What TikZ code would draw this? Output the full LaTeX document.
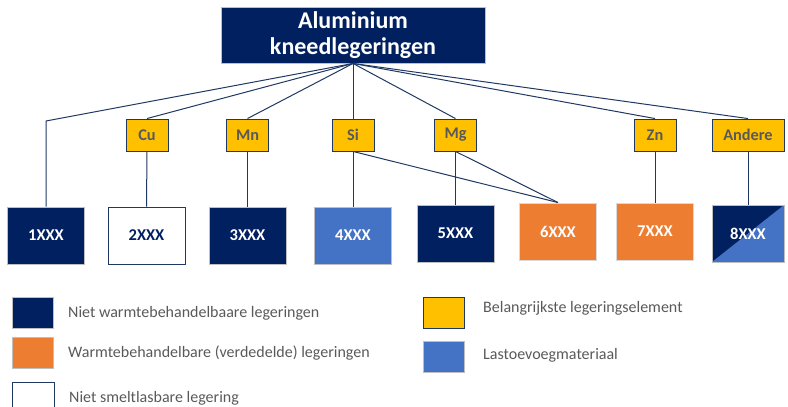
\documentclass[tikz,border=0pt]{standalone}
\usepackage{fontspec}
\setmainfont{Carlito}
\definecolor{navy}{HTML}{002060}
\definecolor{lnav}{HTML}{1F3864}
\definecolor{orng}{HTML}{ED7D31}
\definecolor{lblue}{HTML}{4472C4}
\definecolor{yel}{HTML}{FFC000}
\definecolor{elgray}{HTML}{595959}
\definecolor{bgray}{HTML}{BFBFBF}
\definecolor{txgray}{HTML}{595959}
\tikzset{
  elem/.style={draw=lnav, line width=0.9pt, fill=yel, inner sep=0pt, minimum height=32pt, minimum width=42pt, text=elgray, font=\fontsize{16.3}{18}\selectfont\bfseries},
  alloy/.style={draw=bgray, line width=0.9pt, inner sep=0pt, minimum height=57pt, minimum width=77pt, text=white, font=\fontsize{16.5}{18}\selectfont\bfseries},
  conn/.style={draw=lnav, line width=1pt},
  legsq/.style={draw=bgray, line width=0.9pt, inner sep=0pt, minimum width=41pt, minimum height=31pt},
  legtx/.style={anchor=west, inner sep=0pt, text=txgray, font=\fontsize{16}{18}\selectfont},
}
\begin{document}
\begin{tikzpicture}[x=1pt,y=-1pt]
\useasboundingbox (0,0) rectangle (788,407);
% top
\node[fill=navy, draw=bgray, line width=0.9pt, minimum width=264pt, minimum height=56pt, inner sep=0pt, text=white, align=center, font=\fontsize{24}{26}\selectfont\bfseries] (top) at (353,35) {Aluminium\\kneedlegeringen};
% elements
\node[elem] (cu) at (147,135) {Cu};
\node[elem] (mn) at (247.5,135) {Mn};
\node[elem] (si) at (353,135) {Si};
\node[elem] (mg) at (455.5,135) {Mg};
\node[elem] (zn) at (655,135) {Zn};
\node[elem, minimum width=72pt] (and) at (748,135) {Andere};
% alloys
\node[alloy, fill=navy] (b1) at (46,235.5) {1XXX};
\node[alloy, fill=white, draw=lnav, text=navy] (b2) at (146.5,235.5) {2XXX};
\node[alloy, fill=navy] (b3) at (247.5,235.5) {3XXX};
\node[alloy, fill=lblue] (b4) at (353,235.5) {4XXX};
\node[alloy, fill=navy] (b5) at (455.5,233.5) {5XXX};
\node[alloy, fill=orng, draw=bgray!60] (b6) at (558,231.5) {6XXX};
\node[alloy, fill=orng, draw=bgray!60] (b7) at (655,231.5) {7XXX};
\node[alloy, fill=navy, minimum width=72pt, path picture={\fill[lblue] (path picture bounding box.south west) -- (path picture bounding box.south east) -- (path picture bounding box.north east) -- cycle;}] (b8) at (748,233.5) {8XXX};
% connectors
\coordinate (c1) at (46,121);
\draw[conn] (top.south) -- (c1) -- (b1.north);
\draw[conn] (top.south) -- (cu.north);
\draw[conn] (top.south) -- (mn.north);
\draw[conn] (top.south) -- (si.north);
\draw[conn] (top.south) -- (mg.north);
\draw[conn] (top.south) -- (zn.north);
\draw[conn] (top.south) -- (and.north);
\draw[conn] (cu.south) -- (b2.north);
\draw[conn] (mn.south) -- (b3.north);
\draw[conn] (si.south) -- (b4.north);
\draw[conn] (mg.south) -- (b5.north);
\draw[conn] (si.south) -- (b6.north);
\draw[conn] (mg.south) -- (b6.north);
\draw[conn] (zn.south) -- (b7.north);
\draw[conn] (and.south) -- (b8.north);
% legend
\node[legsq, fill=navy] (l1) at (32.5,312.5) {};
\node[legtx] (t1) at (68,313) {Niet warmtebehandelbaare legeringen};
\node[legsq, fill=orng] (l2) at (32.5,352.5) {};
\node[legtx] (t2) at (68,353) {Warmtebehandelbare (verdedelde) legeringen};
\node[legsq, fill=white, draw=lnav, minimum height=34pt, minimum width=42pt] (l3) at (33,399) {};
\node[legtx] (t3) at (69,398) {Niet smeltlasbare legering};
\node[legsq, fill=yel, draw=lnav] (l4) at (444,312.5) {};
\node[legtx] (t4) at (483,308) {Belangrijkste legeringselement};
\node[legsq, fill=lblue] (l5) at (444,356.5) {};
\node[legtx] (t5) at (483,355) {Lastoevoegmateriaal};
\end{tikzpicture}
\end{document}
